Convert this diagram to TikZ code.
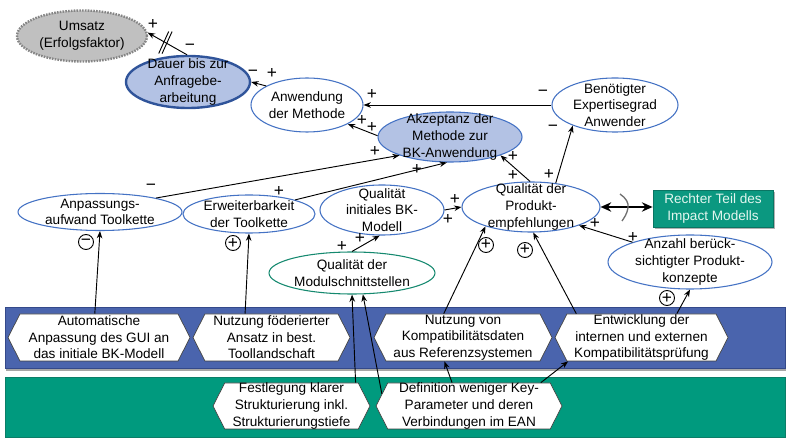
\documentclass[tikz,border=0pt]{standalone}
\usepackage{fontspec}
\setmainfont{Liberation Sans}
\usetikzlibrary{shapes.geometric,shapes.symbols,arrows.meta,shadows,calc}

\newlength{\unitpx}
\setlength{\unitpx}{0.75pt}

\definecolor{ellblue}{HTML}{4472C4}
\definecolor{darkblue}{HTML}{30549A}
\definecolor{lightblue}{HTML}{B3C2E4}
\definecolor{umgray}{HTML}{C0C0C0}
\definecolor{dotgray}{HTML}{858585}
\definecolor{modgreen}{HTML}{15896F}
\definecolor{bandblue}{HTML}{4A64AD}
\definecolor{bandedge}{HTML}{34498A}
\definecolor{bandgreen}{HTML}{009A7E}
\definecolor{bandgreenedge}{HTML}{0B7E68}
\definecolor{boxgreen}{HTML}{0B9880}
\definecolor{boxedge}{HTML}{0A7563}
\definecolor{boxtext}{HTML}{E3F6EF}
\definecolor{hexline}{HTML}{404040}
\definecolor{breakgray}{HTML}{707070}

\begin{document}
\begin{tikzpicture}[x=0.75pt, y=-0.75pt,
  txt/.style={font=\fontsize{10.2}{12.4}\selectfont, align=center, text=black},
  ell/.style={ellipse, draw=ellblue, line width=0.8pt, fill=white, inner sep=0pt},
  hex/.style={signal, signal to=east and west, signal pointer angle=126,
    draw=hexline, line width=0.5pt, fill=white, inner sep=0pt,
    minimum height=47\unitpx},
  lane/.style={rectangle, line width=0.6pt, inner sep=0pt,
    minimum width=780\unitpx,
    drop shadow={shadow xshift=0.8pt, shadow yshift=-2.2pt, fill=black, opacity=0.35}},
  rtbox/.style={rectangle, fill=boxgreen, draw=boxedge, line width=0.6pt,
    minimum width=120\unitpx, minimum height=37\unitpx, inner sep=0pt,
    text=boxtext, font=\fontsize{10.2}{12.4}\selectfont, align=center,
    drop shadow={shadow xshift=1.6pt, shadow yshift=-1.6pt, fill=black, opacity=0.3}},
  link/.style={-{Stealth[length=5.5pt,width=4.2pt]}, line width=0.7pt, black},
  sgn/.style={font=\fontsize{13}{13}\selectfont, inner sep=0pt},
  csgn/.style={circle, draw, line width=0.7pt, minimum size=15\unitpx,
    inner sep=0pt, font=\fontsize{13}{13}\selectfont}
]
\useasboundingbox (0,0) rectangle (786,438);

% swim lanes
\node[lane, fill=bandblue, draw=bandedge, minimum height=61\unitpx] (lanetop) at (395,337.5) {};
\node[lane, fill=bandgreen, draw=bandgreenedge, minimum height=60\unitpx] (lanebottom) at (395,407) {};

% measures (hexagons)
\node[hex, minimum width=182\unitpx,
  label={[txt]center:{Automatische\\Anpassung des GUI an\\das initiale BK-Modell}}] (auto) at (99,337.5) {};
\node[hex, minimum width=157\unitpx,
  label={[txt]center:{Nutzung föderierter\\Ansatz in best.\\Toollandschaft}}] (fod) at (271.5,337.5) {};
\node[hex, minimum width=178\unitpx,
  label={[txt]center:{Nutzung von\\Kompatibilitätsdaten\\aus Referenzsystemen}}] (kdat) at (463,337.5) {};
\node[hex, minimum width=173\unitpx,
  label={[txt]center:{Entwicklung der\\internen und externen\\Kompatibilitätsprüfung}}] (entw) at (641.5,337.5) {};
\node[hex, minimum width=157\unitpx, minimum height=46\unitpx,
  label={[txt]center:{Festlegung klarer\\Strukturierung inkl.\\Strukturierungstiefe}}] (fest) at (291.5,406) {};
\node[hex, minimum width=186\unitpx, minimum height=46\unitpx,
  label={[txt]center:{Definition weniger Key-\\Parameter und deren\\Verbindungen im EAN}}] (def) at (469,406) {};

% factors (ellipses)
\node[ellipse, fill=umgray, draw=dotgray, line width=1.8pt,
  dash pattern=on 1.2pt off 0.9pt, inner sep=0pt,
  minimum width=130\unitpx, minimum height=51\unitpx,
  label={[txt]center:{Umsatz\\(Erfolgsfaktor)}}] (umsatz) at (82,36) {};
\node[ell, fill=lightblue, draw=darkblue, line width=1.8pt,
  minimum width=124\unitpx, minimum height=52\unitpx,
  label={[txt]center:{Dauer bis zur\\Anfragebe-\\arbeitung}}] (dauer) at (188,82) {};
\node[ell, minimum width=112\unitpx, minimum height=54\unitpx,
  label={[txt]center:{Anwendung\\der Methode}}] (anw) at (307,105) {};
\node[ell, fill=lightblue, minimum width=144\unitpx, minimum height=50\unitpx,
  label={[txt]center:{Akzeptanz der\\Methode zur\\BK-Anwendung}}] (akz) at (450,137) {};
\node[ell, minimum width=126\unitpx, minimum height=54\unitpx,
  label={[txt]center:{Benötigter\\Expertisegrad\\Anwender}}] (exp) at (615,105) {};
\node[ell, minimum width=164\unitpx, minimum height=37\unitpx,
  label={[txt]center:{Anpassungs-\\aufwand Toolkette}}] (anp) at (100,212) {};
\node[ell, minimum width=132\unitpx, minimum height=38\unitpx,
  label={[txt]center:{Erweiterbarkeit\\der Toolkette}}] (erw) at (249,214) {};
\node[ell, minimum width=124\unitpx, minimum height=50\unitpx,
  label={[txt]center:{Qualität\\initiales BK-\\Modell}}] (qbk) at (382,210) {};
\node[ell, minimum width=138\unitpx, minimum height=50\unitpx,
  label={[txt]center:{Qualität der\\Produkt-\\empfehlungen}}] (qpe) at (531,207) {};
\node[ell, draw=modgreen, minimum width=166\unitpx, minimum height=42\unitpx,
  label={[txt]center:{Qualität der\\Modulschnittstellen}}] (mod) at (352,273) {};
\node[ell, minimum width=164\unitpx, minimum height=54\unitpx,
  label={[txt]center:{Anzahl berück-\\sichtigter Produkt-\\konzepte}}] (anz) at (690,262) {};

% link to the remaining part of the model
\node[rtbox] (rtbox) at (713,208.5) {Rechter Teil des\\Impact Modells};
\draw[{Stealth[length=8pt,width=7pt]}-{Stealth[length=8pt,width=7pt]}, line width=1.7pt]
  (qpe.east) -- (qpe.east -| rtbox.west);
\draw[breakgray, line width=1pt]
  (620,194) .. controls (626,198) and (629,203) .. (628,208)
  .. controls (627,214) and (624,218) .. (622,221);

% causal links
\draw[link] (dauer.92) -- (umsatz.3);
\draw[link] (anw.155) -- (dauer.0);
\draw[link] (exp.180) -- (anw.0);
\draw[link] (akz.179) -- (anw.-25);
\draw[link] (anp.14) -- (akz.200);
\draw[link] (erw.17) -- (akz.263);
\draw[link] (qpe.92) -- (akz.-20);
\draw[link] (qpe.44) -- (exp.206);
\draw[link] (qbk.0) -- (qpe.180);
\draw[link] (mod.90) -- (qbk.265);
\draw[link] (anz.161) -- (qpe.-21);
\draw[link] (auto.100) -- (anp.270);
\draw[link] (fod.138) -- (erw.270);
\draw[link] (kdat.129) -- (qpe.203);
\draw[link] (entw.160) -- (qpe.275);
\draw[link] (entw.34) -- (anz.270);
\draw[link] (fest.20) -- (mod.270);
\draw[link] (def.172) -- (mod.297);
\draw[link] (def.126) -- (kdat.232);
\draw[link] (def.18) -- (entw.198);

% delay mark on the link towards the success factor
\coordinate (delay) at ($(dauer.92)!0.55!(umsatz.3)$);
\draw[line width=0.7pt] (delay) ++(-6.7,11) -- ++(10,-22);
\draw[line width=0.7pt] (delay) ++(-3.3,11) -- ++(10,-22);

% polarity signs
\node[sgn] (p1) at (153,25) {+};
\node[sgn] (p2) at (190,47) {−};
\node[sgn] (p3) at (253,73) {−};
\node[sgn] (p4) at (272,74) {+};
\node[sgn] (p5) at (372,95) {+};
\node[sgn] (p6) at (543,93) {−};
\node[sgn] (p7) at (362,121) {+};
\node[sgn] (p8) at (372,128) {+};
\node[sgn] (p9) at (151,187) {−};
\node[sgn] (p10) at (375,152) {+};
\node[sgn] (p11) at (279,192) {+};
\node[sgn] (p12) at (417,169) {+};
\node[sgn] (p13) at (513,157) {+};
\node[sgn] (p14) at (513,176) {+};
\node[sgn] (p15) at (553,128) {−};
\node[sgn] (p16) at (549,175) {+};
\node[sgn] (p17) at (455,200) {+};
\node[sgn] (p18) at (448,220) {+};
\node[sgn] (p19) at (342,246) {+};
\node[sgn] (p20) at (360,239) {+};
\node[sgn] (p21) at (595,223) {+};
\node[sgn] (p22) at (633,237) {+};

% polarity of the measures
\node[csgn] (c1) at (86,242) {−};
\node[csgn] (c2) at (233,243) {+};
\node[csgn] (c3) at (486,245) {+};
\node[csgn] (c4) at (525,250) {+};
\node[csgn] (c5) at (667,298) {+};
\end{tikzpicture}
\end{document}
